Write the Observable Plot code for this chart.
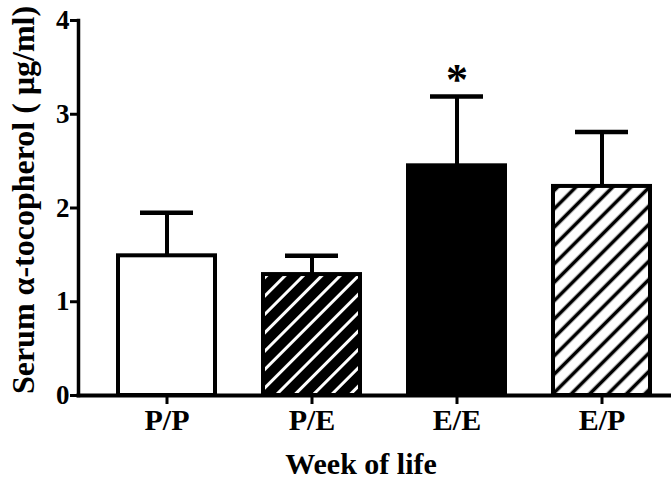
<!DOCTYPE html>
<html>
<head>
<meta charset="utf-8">
<script src="https://cdn.jsdelivr.net/npm/d3@7"></script>
<script src="https://cdn.jsdelivr.net/npm/@observablehq/plot@0.6"></script>
<style>
  html, body { margin: 0; padding: 0; background: #fff; }
  svg { display: block; }
</style>
</head>
<body>
<div id="chart"></div>
<script>
const categories = ["P/P", "P/E", "E/E", "E/P"];
const means = [1.49, 1.29, 2.45, 2.23];
const upper = [1.95, 1.49, 3.19, 2.81];
const significant = ["E/E"];
const yTicks = [0, 1, 2, 3, 4];

const data = categories.map((c, i) => ({cat: c, mean: means[i], upper: upper[i]}));

const fillFor = {"P/P": "white", "P/E": "url(#hatchDark)", "E/E": "black", "E/P": "url(#hatchLight)"};

function defs() {
  const d = d3.create("svg:defs");
  const p1 = d.append("pattern").attr("id", "hatchLight").attr("patternUnits", "userSpaceOnUse")
    .attr("width", 13).attr("height", 13).attr("patternTransform", "rotate(45)");
  p1.append("rect").attr("width", 13).attr("height", 13).attr("fill", "white");
  p1.append("line").attr("x1", 6.5).attr("x2", 6.5).attr("y1", 0).attr("y2", 13)
    .attr("stroke", "black").attr("stroke-width", 3.6);
  const p2 = d.append("pattern").attr("id", "hatchDark").attr("patternUnits", "userSpaceOnUse")
    .attr("width", 13).attr("height", 13).attr("patternTransform", "rotate(45)");
  p2.append("rect").attr("width", 13).attr("height", 13).attr("fill", "black");
  p2.append("line").attr("x1", 6.5).attr("x2", 6.5).attr("y1", 0).attr("y2", 13)
    .attr("stroke", "white").attr("stroke-width", 3);
  return d.node();
}

const font = "'Liberation Serif', 'Times New Roman', serif";

const chart = Plot.plot({
  width: 671,
  height: 486,
  marginLeft: 78,
  marginRight: 0,
  marginTop: 20,
  marginBottom: 91,
  style: {fontFamily: font, background: "white", color: "black"},
  x: {type: "band", domain: categories, range: [78, 690], paddingInner: 0.33, paddingOuter: 0.27, label: null},
  y: {domain: [0, 4], label: null},
  marks: [
    defs,
    Plot.ruleX(data, {x: "cat", y1: "mean", y2: "upper", stroke: "black", strokeWidth: 4}),
    Plot.tickY(data, {x: "cat", y: "upper", stroke: "black", strokeWidth: 4.5, insetLeft: 22, insetRight: 22}),
    Plot.barY(data, {x: "cat", y: "mean", fill: d => fillFor[d.cat], stroke: "black", strokeWidth: 4}),
    Plot.frame({anchor: "left", strokeWidth: 3.5}),
    Plot.frame({anchor: "bottom", strokeWidth: 4}),
    Plot.axisY({ticks: yTicks, tickSize: 8, tickPadding: 1, tickFormat: d => String(d), fontSize: 27, fontWeight: "bold", strokeWidth: 3, label: null}),
    Plot.axisX({tickSize: 9, tickPadding: 4, fontSize: 30, fontWeight: "bold", strokeWidth: 3, label: null}),
    Plot.text(data.filter(d => significant.includes(d.cat)), {x: "cat", y: "upper", text: () => "*", fontSize: 44, fontWeight: "bold", dy: -2, lineAnchor: "bottom"}),
    Plot.text(["Week of life"], {frameAnchor: "bottom", text: d => d, fontSize: 30, fontWeight: "bold", dx: -14, dy: 69, lineAnchor: "middle", textAnchor: "middle"}),
    Plot.text(["Serum α-tocopherol ( μg/ml)"], {frameAnchor: "left", text: d => d, fontSize: 32, fontWeight: "bold", rotate: -90, dx: -55, dy: -8, textAnchor: "middle", lineAnchor: "middle"})
  ]
});

document.getElementById("chart").appendChild(chart);
</script>
</body>
</html>
